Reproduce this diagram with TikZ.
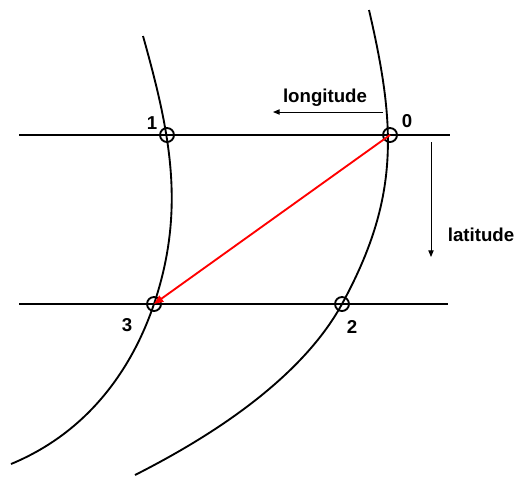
\documentclass[tikz,border=0pt]{standalone}
\usepackage{fontspec}
\setmainfont{Liberation Sans}
\usetikzlibrary{arrows.meta}
\tikzset{
  curveline/.style={line width=1.4pt, line join=round},
  gridline/.style={line width=1.4pt},
  crossing/.style={circle, draw, line width=1.4pt, minimum size=10.5pt, inner sep=0pt},
  lbl/.style={font=\fontsize{14}{16}\selectfont\bfseries, inner sep=0pt},
  dirarrow/.style={line width=0.7pt, -{Triangle[length=5pt,width=4pt]}},
  redarrow/.style={red, line width=1.4pt, -{Triangle[length=7pt,width=5.5pt]}}
}
\begin{document}
\begin{tikzpicture}[x=0.75pt, y=-0.75pt]
\useasboundingbox (0,0) rectangle (515,476);
% intersection points
\coordinate (c1) at (167,135);
\coordinate (c0) at (390,135);
\coordinate (c3) at (154,304);
\coordinate (c2) at (342,304);
% horizontal lines
\coordinate (tl) at (19,135);
\coordinate (tr) at (450,135);
\coordinate (bl) at (19,304);
\coordinate (br) at (448,304);
\draw[gridline] (tl) -- (tr);
\draw[gridline] (bl) -- (br);
% curves
\coordinate (lt) at (143,36);
\coordinate (lb) at (11,464);
\coordinate (rt) at (369,10);
\coordinate (rb) at (135,475);
\draw[curveline] (lt) .. controls (170,132) and (186,209) .. (c3)
                      .. controls (134.8,361) and (93.8,429.8) .. (lb);
\draw[curveline] (rt) .. controls (396.2,126.9) and (399.6,198.4) .. (c2)
                      .. controls (313.2,356.8) and (250.7,416.5) .. (rb);
% circles
\node[crossing] (p1) at (c1) {};
\node[crossing] (p0) at (c0) {};
\node[crossing] (p3) at (c3) {};
\node[crossing] (p2) at (c2) {};
% red arrow
\draw[redarrow] (p0.center) -- (p3.center);
% labels
\node[lbl] (l1) at (152,123) {1};
\node[lbl] (l0) at (407,121) {0};
\node[lbl] (l3) at (127,325) {3};
\node[lbl] (l2) at (352,327) {2};
\node[lbl] (lon) at (325,98) {longitude};
\node[lbl] (lat) at (481,235) {latitude};
% direction arrows
\coordinate (lonS) at (383,112);
\coordinate (lonE) at (273,112);
\draw[dirarrow] (lonS) -- (lonE);
\coordinate (latS) at (431,142);
\coordinate (latE) at (431,257);
\draw[dirarrow] (latS) -- (latE);
\end{tikzpicture}
\end{document}
